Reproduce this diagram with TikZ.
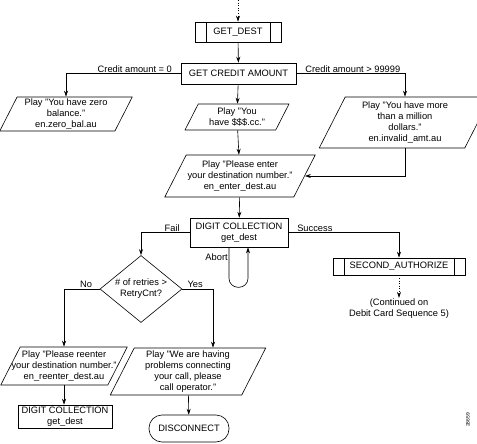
\documentclass[tikz,border=0pt]{standalone}
\usepackage{fontspec}
\setmainfont{Liberation Sans}
\usetikzlibrary{shapes.geometric, arrows.meta}

\tikzset{
  flow/.style={font=\fontsize{9.3}{11}\selectfont, line width=0.6pt},
  proc/.style={draw, align=center, inner sep=1pt},
  subproc/.style={proc, path picture={
      \draw ([xshift=11pt]path picture bounding box.north west) -- ([xshift=11pt]path picture bounding box.south west);
      \draw ([xshift=-11pt]path picture bounding box.north east) -- ([xshift=-11pt]path picture bounding box.south east);}},
  play/.style={draw, trapezium, trapezium left angle=63, trapezium right angle=117,
      align=center, inner ysep=0.5pt},
  decide/.style={draw, diamond, aspect=1.22, align=center, inner sep=0pt,
      minimum width=82pt, minimum height=67pt},
  term/.style={draw, rounded corners=13pt, minimum width=80pt, minimum height=27pt},
  lbl/.style={inner sep=1pt},
}

\begin{document}
\begin{tikzpicture}[x=1pt, y=-1pt, flow, >={Stealth[length=6pt, width=4pt]}]
    \useasboundingbox (0, 0) rectangle (477, 444);

    \coordinate (entry) at (238, 0);
    \node[subproc, minimum width=86pt, minimum height=20pt] (getdest) at (238, 32) {GET\_DEST};
    \node[proc, minimum width=115pt, minimum height=21pt] (credit) at (238.5, 73.5) {GET CREDIT AMOUNT};

    \node[play, inner xsep=4pt, minimum height=34pt] (zero) at (66, 114) {Play "You have zero\\ balance."\\ en.zero\_bal.au};
    \node[play, inner xsep=1pt, minimum height=26pt] (dollars) at (237, 117) {Play "You\\ have \$\$\$.cc."};
    \node[play, inner xsep=7pt, minimum height=51pt] (million) at (405, 122.5) {Play "You have more\\ than a million\\ dollars."\\ en.invalid\_amt.au};
    \node[play, inner xsep=-12pt, minimum height=42pt] (enter) at (240, 176) {Play "Please enter\\ your destination number."\\ en\_enter\_dest.au};

    \node[proc, minimum width=98pt, minimum height=29pt] (collect) at (239, 232.5) {DIGIT COLLECTION\\ get\_dest};
    \node[decide] (retry) at (141, 289) {\# of retries >\\ RetryCnt?};
    \node[subproc, minimum width=132pt, minimum height=17pt] (second) at (399, 266.5) {SECOND\_AUTHORIZE};
    \node[lbl, align=center] (cont) at (399, 309) {(Continued on\\ Debit Card Sequence 5)};

    \node[play, inner xsep=-16pt, minimum height=38pt] (reenter) at (64, 366) {Play "Please reenter\\ your destination number."\\ en\_reenter\_dest.au};
    \node[play, inner xsep=6pt, minimum height=47pt] (operator) at (188, 371.5) {Play "We are having\\ problems connecting\\ your call, please\\ call operator."};
    \node[proc, minimum width=94pt, minimum height=23pt] (collect2) at (65, 416.5) {DIGIT COLLECTION\\ get\_dest};
    \node[term] (disconnect) at (189, 428.5) {DISCONNECT};

    \node[lbl, rotate=90, font=\fontsize{5}{6}\selectfont] (tag) at (468, 420) {28659};

    % main line
    \draw[->, dotted] (entry) -- (getdest);
    \draw[->] (getdest) -- (credit);
    \draw[->] (credit.west) -| (zero.north) node[lbl, above, pos=0.2] (lzero) {Credit amount = 0};
    \draw[->] (credit.east) -| (million.north) node[lbl, above, pos=0.26] (lmillion) {Credit amount > 99999};
    \draw[->] (credit) -- (dollars);
    \draw[->] (dollars) -- (enter);
    \draw[->] (million.south) |- (enter.east);
    \draw[->] (enter) -- (collect);

    % digit collection
    \draw[->] (collect.west) -| (retry.north) node[lbl, above, pos=0.18] (lfail) {Fail};
    \draw[->] (collect.east) -| (second.north) node[lbl, above, pos=0.12] (lsuccess) {Success};
    \draw[->, rounded corners=9pt] ([xshift=-10pt]collect.south) -- ++(0, 40)
        node[lbl, left, pos=0.25] (labort) {Abort} -- ++(19, 0) -- ([xshift=9pt]collect.south);
    \draw[->, dotted] (second) -- (cont);

    % retries
    \draw[->] (retry.west) -| (reenter.north) node[lbl, above, pos=0.19] (lno) {No};
    \draw[->] (retry.east) -| ([xshift=25pt]operator.north) node[lbl, above, pos=0.21] (lyes) {Yes};
    \draw[->] (reenter.south) -- (reenter.south |- collect2.north);
    \draw[->] (operator) -- (disconnect);
\end{tikzpicture}
\end{document}
